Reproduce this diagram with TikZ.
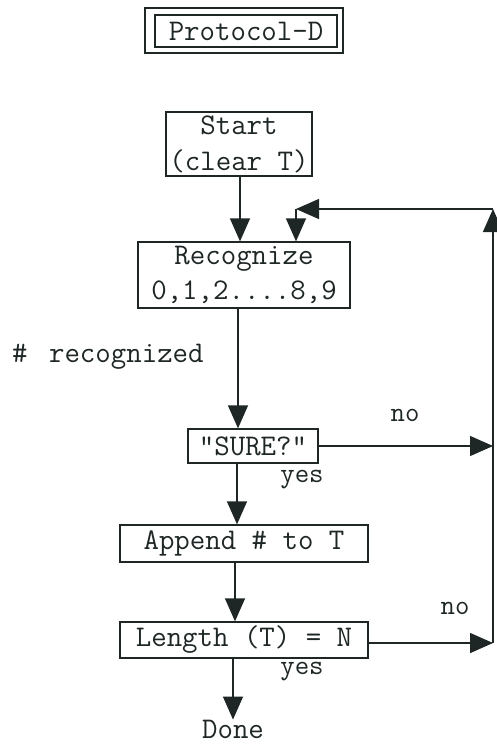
\documentclass[tikz,border=0pt]{standalone}
\usetikzlibrary{arrows.meta}
\definecolor{ink}{HTML}{1E2626}
\begin{document}
\begin{tikzpicture}[x=1pt,y=-1pt,
  every node/.style={font=\ttfamily\fontsize{30}{35}\selectfont, text=ink, inner sep=0pt},
  box/.style={draw=ink, line width=1.3pt, align=center},
  conn/.style={draw=ink, line width=1.4pt, -{Triangle[length=23pt,width=20pt]}},
  lbl/.style={font=\ttfamily\fontsize{28}{30}\selectfont}]
\useasboundingbox (0,0) rectangle (496,747);
% title
\node[box, minimum width=198pt, minimum height=45pt] (titleo) at (244,30.5) {};
\node[box, minimum width=182pt, minimum height=32pt] (titlei) at (246,31) {Protocol-D};
% boxes
\node[box, minimum width=146pt, minimum height=64pt, font=\ttfamily\fontsize{30}{36}\selectfont] (start) at (239,144) {Start\\(clear T)};
\node[box, minimum width=212pt, minimum height=66pt] (rec) at (244,275) {Recognize\\0,1,2....8,9};
\node[box, minimum width=130pt, minimum height=34pt] (sure) at (253,446) {"SURE?"};
\node[box, minimum width=248pt, minimum height=37pt] (app) at (244,543.5) {Append \# to T};
\node[box, minimum width=248pt, minimum height=36pt] (len) at (244,640) {Length (T) = N};
\node (done) at (233,729) {Done};
% labels
\node[anchor=west] (hrec) at (12,357) {\#\hspace{6pt} recognized};
\node[lbl] (no1) at (405,415) {no};
\node[lbl] (yes1) at (302,480) {yes};
\node[lbl] (no2) at (455,608) {no};
\node[lbl] (yes2) at (302,672) {yes};
% loop coordinates
\coordinate (rb) at (493,643);
\coordinate (rt) at (493,209);
\coordinate (lt) at (296,209);
% connectors
\draw[conn] (start.south -| 240,0) -- (rec.north -| 240,0);
\draw[conn] (rec.south -| 238,0) -- (sure.north -| 238,0);
\draw[conn] (sure.south -| 237,0) -- (app.north -| 237,0);
\draw[conn] (app.south -| 235,0) -- (len.north -| 235,0);
\draw[conn] (len.south -| 233,0) -- (done.north);
\draw[conn] (sure.east) -- (sure.east -| rb);
\draw[conn] (len.east |- rb) -- (rb);
\draw[conn] (rb) -- (rt);
\draw[conn] (rt) -- (lt);
\draw[conn] (lt) -- (rec.north -| lt);
\end{tikzpicture}
\end{document}
